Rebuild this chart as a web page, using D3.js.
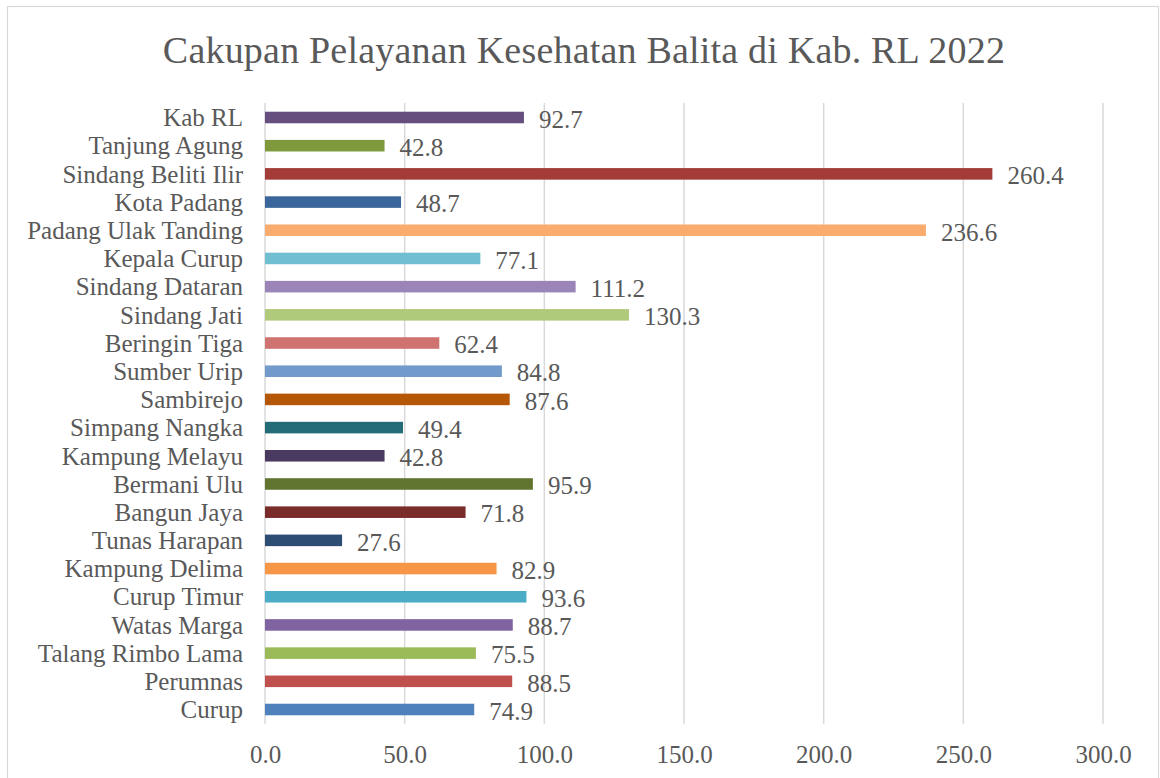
<!DOCTYPE html>
<html>
<head>
<meta charset="utf-8">
<script src="https://cdn.jsdelivr.net/npm/d3@7"></script>
<style>
  body { margin: 0; background: #fff; }
  svg text { font-family: "Liberation Serif", serif; fill: #595959; }
</style>
</head>
<body>
<svg id="chart" width="1160" height="778"></svg>
<script>
// data, top row first
var categories = ["Kab RL", "Tanjung Agung", "Sindang Beliti Ilir", "Kota Padang",
    "Padang Ulak Tanding", "Kepala Curup", "Sindang Dataran", "Sindang Jati",
    "Beringin Tiga", "Sumber Urip", "Sambirejo", "Simpang Nangka",
    "Kampung Melayu", "Bermani Ulu", "Bangun Jaya", "Tunas Harapan",
    "Kampung Delima", "Curup Timur", "Watas Marga", "Talang Rimbo Lama",
    "Perumnas", "Curup"];
var values = [92.7, 42.8, 260.4, 48.7, 236.6, 77.1, 111.2, 130.3, 62.4, 84.8,
    87.6, 49.4, 42.8, 95.9, 71.8, 27.6, 82.9, 93.6, 88.7, 75.5, 88.5, 74.9];
var colors = ["#664f7f", "#7f9a3d", "#a33b39", "#3a669c", "#f9ac6d", "#70bfd1",
    "#9a84b8", "#afca7b", "#cf7370", "#729acb", "#b65708", "#246b78",
    "#4b3a60", "#617530", "#7a2c2b", "#2d4d74", "#f79646", "#4bacc6",
    "#8064a2", "#9bbb59", "#c0504d", "#4f81bd"];
var xTicks = [0, 50, 100, 150, 200, 250, 300];
var title = "Cakupan Pelayanan Kesehatan Balita di Kab. RL 2022";

var rows = categories.map(function(c, i) {
    return {name: c, value: values[i], color: colors[i]};
});

var svg = d3.select("#chart");

svg.append("rect")
    .attr("x", 7.5).attr("y", 6.5)
    .attr("width", 1151).attr("height", 790)
    .attr("fill", "#fff")
    .attr("stroke", "#d9d9d9")
    .attr("stroke-width", 1.2);

var x = d3.scaleLinear().domain([0, 300]).range([265, 1103]);
var y = d3.scaleBand().domain(categories)
    .range([103.4, 723.6])
    .paddingInner(0.59).paddingOuter(0.295);

// gridlines
svg.append("g").selectAll("line")
    .data(xTicks)
    .enter().append("line")
    .attr("x1", function(d) { return x(d); })
    .attr("x2", function(d) { return x(d); })
    .attr("y1", 103).attr("y2", 724)
    .attr("stroke", "#d9d9d9")
    .attr("stroke-width", 1.5);

svg.append("text")
    .attr("x", 584).attr("y", 63)
    .attr("text-anchor", "middle")
    .style("font-size", "38px")
    .style("letter-spacing", "0.2px")
    .text(title);

var xAxis = d3.axisBottom(x).tickValues(xTicks)
    .tickFormat(d3.format(".1f")).tickSize(0).tickPadding(0);
var gx = svg.append("g")
    .attr("transform", "translate(0,745)")
    .call(xAxis);
gx.select(".domain").remove();
gx.selectAll("text")
    .attr("dy", "0.71em")
    .style("font-family", "Liberation Serif, serif")
    .style("font-size", "25px")
    .attr("fill", "#595959");

var yAxis = d3.axisLeft(y).tickSize(0).tickPadding(22);
var gy = svg.append("g")
    .attr("transform", "translate(265,0)")
    .call(yAxis);
gy.select(".domain").remove();
gy.selectAll("text")
    .attr("dy", "0.35em")
    .style("font-family", "Liberation Serif, serif")
    .style("font-size", "25px")
    .attr("fill", "#595959");

svg.append("g").selectAll("rect")
    .data(rows)
    .enter().append("rect")
    .attr("x", x(0))
    .attr("y", function(d) { return y(d.name); })
    .attr("width", function(d) { return x(d.value) - x(0); })
    .attr("height", y.bandwidth())
    .attr("fill", function(d) { return d.color; });

svg.append("g").selectAll("text")
    .data(rows)
    .enter().append("text")
    .attr("x", function(d) { return x(d.value) + 15; })
    .attr("y", function(d) { return y(d.name) + y.bandwidth() / 2 + 1.5; })
    .attr("dy", "0.35em")
    .style("font-size", "25px")
    .attr("fill", "#404040")
    .text(function(d) { return d.value.toFixed(1); });
</script>
</body>
</html>
